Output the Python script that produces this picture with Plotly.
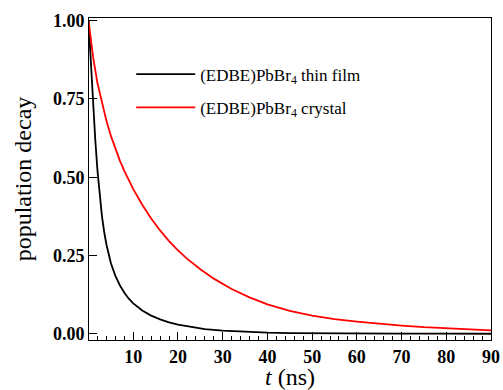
import plotly.graph_objects as go

# thin film (black)
t_film = [0, 0.5, 1.0, 1.5, 2.0, 2.5, 3.0, 3.5, 4.0, 5.0, 6.0, 7.0, 8.0, 9.0, 10, 12, 14, 16, 18,
          20, 23, 26, 30, 35, 40, 45, 50, 60, 70, 80, 90]
v_film = [1.0, 0.86, 0.73, 0.62, 0.52, 0.44, 0.375, 0.325, 0.285, 0.225, 0.185, 0.155, 0.131,
          0.112, 0.097, 0.074, 0.058, 0.046, 0.036, 0.029, 0.021, 0.015, 0.010, 0.006, 0.0035,
          0.002, 0.0012, 0.0005, 0.0002, 0.0001, 0.0]

# crystal (red)
t_cry = [0, 1, 2, 3, 4, 5, 6, 7, 8, 10, 12, 14, 16, 18, 20, 22, 25, 28, 32, 36, 40, 45, 50, 55,
         60, 65, 70, 75, 80, 85, 90]
v_cry = [1.0, 0.885, 0.80, 0.735, 0.68, 0.632, 0.59, 0.553, 0.52, 0.462, 0.412, 0.368, 0.330,
         0.296, 0.266, 0.240, 0.206, 0.176, 0.143, 0.116, 0.094, 0.073, 0.058, 0.047, 0.039,
         0.032, 0.026, 0.021, 0.017, 0.014, 0.011]

SERIF = "Liberation Serif"

fig = go.Figure()
fig.add_trace(go.Scatter(x=t_film, y=v_film, mode="lines", line=dict(color="black", width=1.8),
                         name="(EDBE)PbBr<sub>4</sub> thin film", legendgroup="film"))
fig.add_trace(go.Scatter(x=t_cry, y=v_cry, mode="lines", line=dict(color="red", width=1.8),
                         name="(EDBE)PbBr<sub>4</sub> crystal", legendgroup="crystal"))

fig.update_xaxes(range=[0.1, 90], dtick=10, ticks="inside", ticklen=8, tickcolor="black", tickwidth=1,
                 tickfont=dict(family=SERIF, size=18, weight="bold", color="black"),
                 minor=dict(ticks="inside", ticklen=4, dtick=2, tickcolor="black"),
                 showline=True, linecolor="black", mirror=True, showgrid=False, zeroline=False,
                 automargin=False,
                 title=dict(text="<i>t</i> (ns)", standoff=2,
                            font=dict(family=SERIF, size=24, color="black")))
fig.update_yaxes(range=[-0.020, 1.0086], dtick=0.25, tickformat=".2f", ticks="inside", ticklen=8,
                 tickcolor="black", tickwidth=1,
                 tickfont=dict(family=SERIF, size=18, weight="bold", color="black"),
                 showline=True, linecolor="black", mirror=True, showgrid=False, zeroline=False,
                 automargin=False,
                 title=dict(text="population decay", standoff=14,
                            font=dict(family=SERIF, size=24, color="black")))

fig.update_layout(width=503, height=390, margin=dict(l=89, r=12, t=18, b=50),
                  plot_bgcolor="white",
                  legend=dict(x=0.105, y=0.88, font=dict(family=SERIF, size=17, color="black"),
                              itemwidth=59, traceorder="grouped", tracegroupgap=8),
                  showlegend=True)
fig.write_html("out.html")
